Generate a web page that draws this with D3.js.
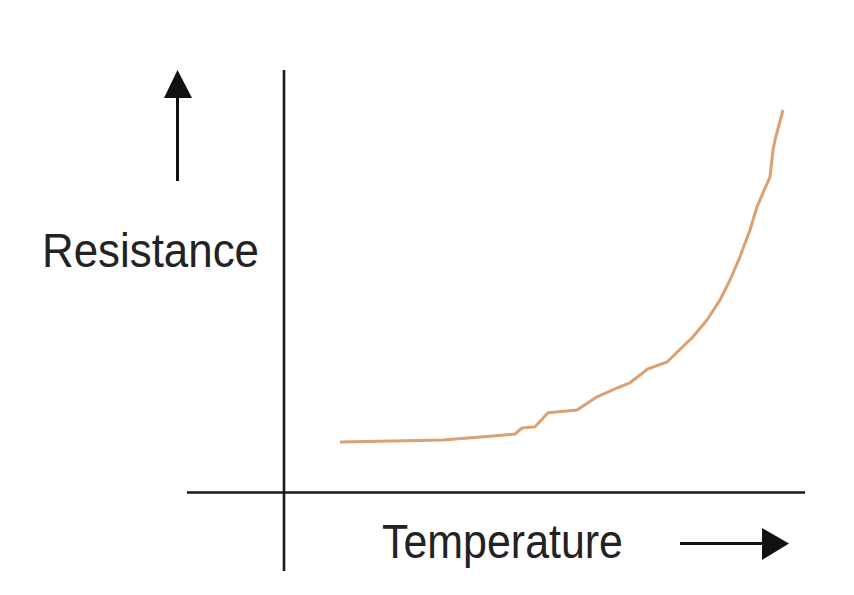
<!DOCTYPE html>
<html>
<head>
<meta charset="utf-8">
<script src="https://cdn.jsdelivr.net/npm/d3@7/dist/d3.min.js"></script>
<style>
  html, body { margin: 0; padding: 0; background: #fff; }
  svg { display: block; }
</style>
</head>
<body>
<svg id="chart" width="854" height="595"></svg>
<script>
// Data (arbitrary units)
const temperature = [11.2, 31.8, 41.8, 46.2, 47.6, 50.2, 52.8, 58.6, 62.6, 66.6, 69.2, 72.8, 76.6, 81.8, 84.6, 87.2, 89.2, 91.2, 93.2, 94.6, 97.2, 97.8, 98.2, 99.8];
const resistance  = [12.5, 13.0, 14.0, 14.5, 16.0, 16.3, 19.8, 20.5, 23.8, 26.0, 27.3, 30.8, 32.5, 38.8, 43.0, 48.0, 53.0, 58.8, 65.5, 71.3, 78.8, 85.5, 88.0, 95.5];
const xLabel = "Temperature";
const yLabel = "Resistance";

const svg = d3.select("#chart");
const x = d3.scaleLinear().domain([0, 100]).range([284, 784]);
const y = d3.scaleLinear().domain([0, 100]).range([492, 92]);

// Axes lines (no ticks)
svg.append("line").attr("x1", 284).attr("x2", 284).attr("y1", 70).attr("y2", 571)
  .attr("stroke", "#1a1a1a").attr("stroke-width", 2.6);
svg.append("line").attr("x1", 187).attr("x2", 805).attr("y1", 492.5).attr("y2", 492.5)
  .attr("stroke", "#1a1a1a").attr("stroke-width", 2.6);

// Curve
const pts = temperature.map((t, i) => [t, resistance[i]]);
svg.append("path")
  .datum(pts)
  .attr("fill", "none")
  .attr("stroke", "#dba173")
  .attr("stroke-width", 3)
  .attr("stroke-linejoin", "round")
  .attr("d", d3.line().x(d => x(d[0])).y(d => y(d[1])));

// Up arrow
svg.append("line").attr("x1", 177.5).attr("x2", 177.5).attr("y1", 181).attr("y2", 95)
  .attr("stroke", "#111").attr("stroke-width", 3);
svg.append("path").attr("d", "M177.5,70 L164,98 L192,98 Z").attr("fill", "#111");

// Right arrow
svg.append("line").attr("x1", 680).attr("x2", 765).attr("y1", 543.5).attr("y2", 543.5)
  .attr("stroke", "#111").attr("stroke-width", 3);
svg.append("path").attr("d", "M789,543.5 L762,528 L762,560 Z").attr("fill", "#111");

// Labels (slightly taller than wide, as in the picture)
svg.append("g").attr("transform", "translate(42,267) scale(1,1.08)")
  .append("text").attr("x", 0).attr("y", 0)
  .attr("font-family", "Liberation Sans, Arial, sans-serif")
  .attr("font-size", 44).attr("fill", "#222")
  .attr("textLength", 217).attr("lengthAdjust", "spacingAndGlyphs")
  .text(yLabel);
svg.append("g").attr("transform", "translate(382,558) scale(1,1.1)")
  .append("text").attr("x", 0).attr("y", 0)
  .attr("font-family", "Liberation Sans, Arial, sans-serif")
  .attr("font-size", 44).attr("fill", "#222")
  .attr("textLength", 241).attr("lengthAdjust", "spacingAndGlyphs")
  .text(xLabel);
</script>
</body>
</html>
